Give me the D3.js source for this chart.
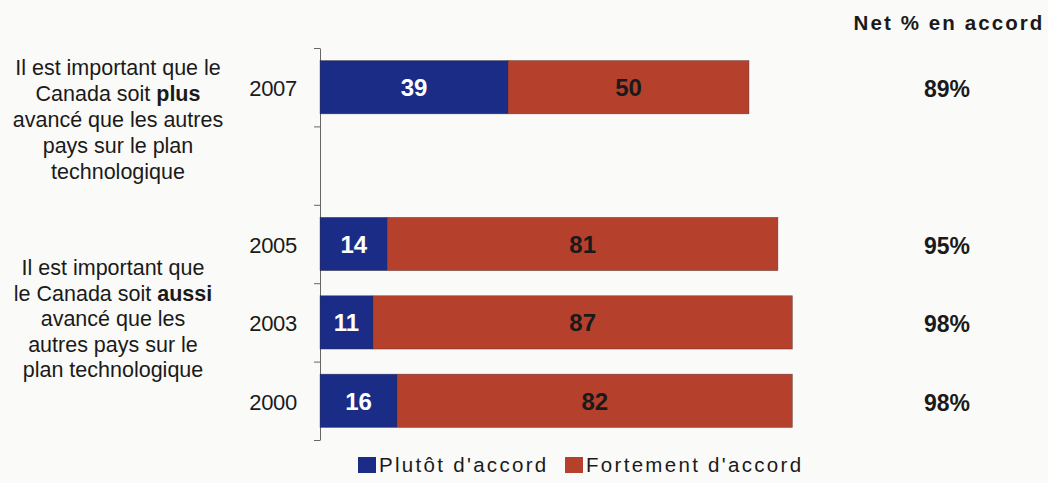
<!DOCTYPE html>
<html>
<head>
<meta charset="utf-8">
<script src="https://cdn.jsdelivr.net/npm/d3@7"></script>
<style>
  html, body { margin: 0; padding: 0; background: #fafaf8; }
  svg { display: block; font-family: "Liberation Sans", Arial, sans-serif; }
</style>
</head>
<body>
<svg id="chart" width="1048" height="483"></svg>
<script>
// ---- data ----
const years = ["2007", "2005", "2003", "2000"];
const plutot = [39, 14, 11, 16];        // Plutôt d'accord
const fortement = [50, 81, 87, 82];     // Fortement d'accord
const netLabels = ["89%", "95%", "98%", "98%"];
const rowOrder = ["2007", "gap", "2005", "2003", "2000"];
const seriesNames = ["Plutôt d'accord", "Fortement d'accord"];
const netTitle = "Net % en accord";
const statement1 = [
  [["Il est important que le", false]],
  [["Canada soit ", false], ["plus", true]],
  [["avancé que les autres", false]],
  [["pays sur le plan", false]],
  [["technologique", false]]
];
const statement2 = [
  [["Il est important que", false]],
  [["le Canada soit ", false], ["aussi", true]],
  [["avancé que les", false]],
  [["autres pays sur le", false]],
  [["plan technologique", false]]
];

// ---- layout ----
const colors = ["#1b2c86", "#b5412c"];
const svg = d3.select("#chart");
const plotTop = 48, plotBottom = 440, axisX = 320;

const x = d3.scaleLinear().domain([0, 100]).range([axisX, 802]);
const y = d3.scaleBand().domain(rowOrder).range([plotTop, plotBottom])
  .paddingInner(0.32).paddingOuter(0.16);
const yEdges = d3.scaleLinear().domain([0, rowOrder.length]).range([plotTop, plotBottom]);

const rows = years.map((yr, i) => ({ year: yr, p: plutot[i], f: fortement[i], net: netLabels[i] }));
const stack = d3.stack().keys(["p", "f"])(rows);

// axis with ticks at band edges
svg.append("g")
  .attr("transform", `translate(${axisX},0)`)
  .call(d3.axisLeft(yEdges).tickValues(d3.range(0, rowOrder.length + 1))
    .tickFormat("").tickSize(6).tickSizeOuter(0))
  .call(g => g.selectAll("path, line").attr("stroke", "#666").attr("stroke-width", 1));

// bars
stack.forEach((layer, li) => {
  svg.append("g").selectAll("rect")
    .data(layer)
    .join("rect")
    .attr("x", d => x(d[0]))
    .attr("y", d => y(d.data.year))
    .attr("width", d => x(d[1]) - x(d[0]))
    .attr("height", y.bandwidth())
    .attr("fill", colors[li])
    .attr("stroke", "#3a2a2a")
    .attr("stroke-width", 0.6)
    .attr("stroke-opacity", 0.6);

  svg.append("g").selectAll("text")
    .data(layer)
    .join("text")
    .attr("x", d => (x(d[0]) + x(d[1])) / 2)
    .attr("y", d => y(d.data.year) + y.bandwidth() / 2 + 9)
    .attr("text-anchor", "middle")
    .attr("font-size", 24)
    .attr("font-weight", "bold")
    .attr("fill", li === 0 ? "#ffffff" : "#1a1a1a")
    .text(d => d[1] - d[0]);
});

// year labels
svg.append("g").selectAll("text")
  .data(rows)
  .join("text")
  .attr("x", 297)
  .attr("y", d => y(d.year) + y.bandwidth() / 2 + 9)
  .attr("text-anchor", "end")
  .attr("font-size", 22)
  .attr("letter-spacing", -0.3)
  .attr("fill", "#1a1a1a")
  .text(d => d.year);

// net column
svg.append("text")
  .attr("x", 949).attr("y", 30)
  .attr("text-anchor", "middle")
  .attr("font-size", 20.5)
  .attr("font-weight", "bold")
  .attr("letter-spacing", 2.1)
  .attr("fill", "#1a1a1a")
  .text(netTitle);

svg.append("g").selectAll("text")
  .data(rows)
  .join("text")
  .attr("x", 947)
  .attr("y", d => y(d.year) + y.bandwidth() / 2 + 10)
  .attr("text-anchor", "middle")
  .attr("font-size", 23)
  .attr("font-weight", "bold")
  .attr("fill", "#1a1a1a")
  .text(d => d.net);

// statements
function drawStatement(lines, cx, firstBaseline, lh) {
  const t = svg.append("text")
    .attr("text-anchor", "middle")
    .attr("font-size", 21.5)
    .attr("fill", "#1a1a1a");
  lines.forEach((segs, i) => {
    segs.forEach((s, j) => {
      const ts = t.append("tspan").text(s[0]);
      if (j === 0) ts.attr("x", cx).attr("y", firstBaseline + i * lh);
      if (s[1]) ts.attr("font-weight", "bold");
    });
  });
}
drawStatement(statement1, 118, 75, 26);
drawStatement(statement2, 113, 275, 25.5);

// legend
const legend = svg.append("g").attr("transform", "translate(358,457)");
const legX = [0, 207];
seriesNames.forEach((name, i) => {
  const g = legend.append("g").attr("transform", `translate(${legX[i]},0)`);
  g.append("rect").attr("width", 18).attr("height", 16).attr("fill", colors[i]);
  g.append("text").attr("x", 21).attr("y", 15)
    .attr("font-size", 20.5).attr("letter-spacing", 2.3)
    .attr("fill", "#1a1a1a").text(name);
});
</script>
</body>
</html>
